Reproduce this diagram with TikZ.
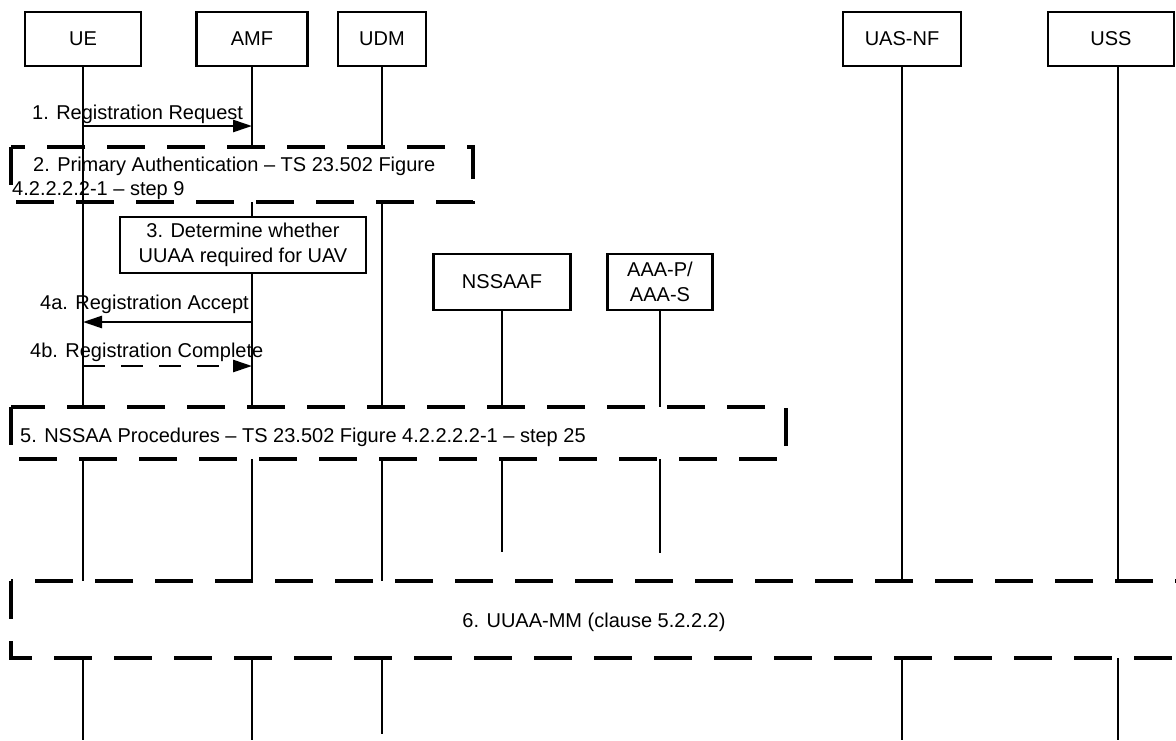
\documentclass[tikz,border=0pt]{standalone}
\usepackage{fontspec}
\setmainfont{Liberation Sans}
\usetikzlibrary{arrows.meta}
\begin{document}
\begin{tikzpicture}[x=1pt,y=-1pt,
  font=\fontsize{20}{25}\selectfont,
  entity/.style={draw, line width=2.3pt, fill=white, minimum height=54pt, inner sep=0pt, align=center},
  actbox/.style={draw, line width=2.3pt, fill=white, inner sep=0pt, align=center},
  life/.style={line width=1.2pt},
  msg/.style={line width=2.6pt, -{Triangle[length=19pt,width=12pt]}},
  dmsg/.style={msg, dash pattern=on 22pt off 16pt},
  grp/.style={line width=3.4pt, dash pattern=on 38pt off 22pt},
  lbl/.style={inner sep=0pt}]
\useasboundingbox (0,0) rectangle (1176,740);

% entities
\node[entity, minimum width=116pt] (ue) at (83,39) {UE};
\node[entity, minimum width=111pt] (amf) at (252,39) {AMF};
\node[entity, minimum width=88pt] (udm) at (382,39) {UDM};
\node[entity, minimum width=118pt] (uas) at (902,39) {UAS-NF};
\node[entity, minimum width=126pt] (uss) at (1111,39) {USS};
\coordinate (ussl) at (1118,66);

% lifelines
\draw[life] (ue.south) -- (ue.south |- 0,407);
\draw[life] (ue.south |- 0,459) -- (ue.south |- 0,581);
\draw[life] (ue.south |- 0,658) -- (ue.south |- 0,740);
\draw[life] (amf.south) -- (amf.south |- 0,147);
\draw[life] (amf.south |- 0,202) -- (amf.south |- 0,407);
\draw[life] (amf.south |- 0,459) -- (amf.south |- 0,581);
\draw[life] (amf.south |- 0,658) -- (amf.south |- 0,740);
\draw[life] (udm.south) -- (udm.south |- 0,147);
\draw[life] (udm.south |- 0,202) -- (udm.south |- 0,407);
\draw[life] (udm.south |- 0,459) -- (udm.south |- 0,581);
\draw[life] (udm.south |- 0,658) -- (udm.south |- 0,734);
\draw[life] (uas.south) -- (uas.south |- 0,581);
\draw[life] (uas.south |- 0,658) -- (uas.south |- 0,740);
\draw[life] (ussl) -- (ussl |- 0,581);
\draw[life] (ussl |- 0,658) -- (ussl |- 0,740);

% later entities
\node[entity, minimum width=137pt, minimum height=56pt] (nssaaf) at (502,282) {NSSAAF};
\node[entity, minimum width=105pt, minimum height=56pt] (aaa) at (660,282) {AAA-P/\\AAA-S};
\draw[life] (nssaaf.south) -- (nssaaf.south |- 0,407);
\draw[life] (nssaaf.south |- 0,459) -- (nssaaf.south |- 0,552);
\draw[life] (aaa.south) -- (aaa.south |- 0,407);
\draw[life] (aaa.south |- 0,459) -- (aaa.south |- 0,553);

% 1
\draw[msg] (ue.south |- 0,126) -- (amf.south |- 0,126);
\node[lbl, anchor=base west] (t1) at (32,119) {1. Registration Request};

% 2
\draw[grp] (11,147) rectangle (473,202);
\node[lbl, anchor=base west] (t2a) at (33,171) {2. Primary Authentication – TS 23.502 Figure};
\node[lbl, anchor=base west] (t2b) at (12,195) {4.2.2.2.2-1 – step 9};

% 3
\node[actbox, minimum width=246pt, minimum height=56pt] (s3) at (243,245) {3. Determine whether\\UUAA required for UAV};

% 4a / 4b
\draw[msg] (amf.south |- 0,322) -- (ue.south |- 0,322);
\node[lbl, anchor=base west] (t4a) at (40,309) {4a. Registration Accept};
\draw[dmsg] (ue.south |- 0,366) -- (amf.south |- 0,366);
\node[lbl, anchor=base west] (t4b) at (30,357) {4b. Registration Complete};

% 5
\draw[grp] (11,407) rectangle (786,459);
\node[lbl, anchor=base west] (t5) at (20,442) {5. NSSAA Procedures – TS 23.502 Figure 4.2.2.2.2-1 – step 25};

% 6
\draw[grp] (11,581) rectangle (1195,658);
\node[lbl, anchor=base] (t6) at (594,627) {6. UUAA-MM (clause 5.2.2.2)};
\end{tikzpicture}
\end{document}
